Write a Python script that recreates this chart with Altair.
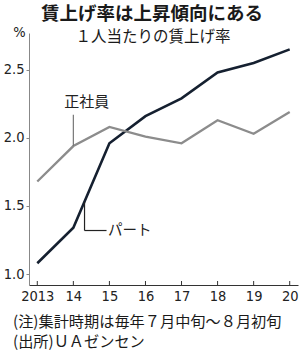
import altair as alt
import pandas as pd

# ---- data ----
years = [2013, 2014, 2015, 2016, 2017, 2018, 2019, 2020]
part_rate = [1.08, 1.34, 1.96, 2.16, 2.29, 2.48, 2.55, 2.65]      # パート
regular_rate = [1.68, 1.94, 2.08, 2.01, 1.96, 2.13, 2.03, 2.19]   # 正社員
x_tick_labels = ["2013", "14", "15", "16", "17", "18", "19", "20"]
y_tick_values = [1.0, 1.5, 2.0, 2.5]

title_text = "賃上げ率は上昇傾向にある"
subtitle_text = "１人当たりの賃上げ率"
unit_text = "%"
note_text = "(注)集計時期は毎年７月中旬～８月初旬"
source_text = "(出所)ＵＡゼンセン"
label_regular = "正社員"
label_part = "パート"

# ---- layout ----
W, H = 269, 252
X_DOMAIN = [2012.77, 2020.23]
Y_DOMAIN = [0.92, 2.77]
JP = "Noto Sans CJK JP"
NUM = "Liberation Sans Narrow, DejaVu Sans Condensed, sans-serif"

df = pd.DataFrame({
    "year": years * 2,
    "rate": part_rate + regular_rate,
    "series": [label_part] * len(years) + [label_regular] * len(years),
})

xs = alt.Scale(domain=X_DOMAIN, nice=False, zero=False)
ys = alt.Scale(domain=Y_DOMAIN, nice=False, zero=False)

label_expr = " : ".join(
    f"datum.value == {y} ? '{l}'" for y, l in zip(years, x_tick_labels)
) + " : ''"

X_AXIS = alt.Axis(
    values=years, labelExpr=label_expr, ticks=False, grid=False,
    domainColor="#333333", domainWidth=1, labelFont=NUM,
    labelFontSize=14.5, labelColor="#222222", labelPadding=4, title=None,
    labelFlush=False)
Y_AXIS = alt.Axis(
    values=y_tick_values, format=".1f", tickSize=3, tickColor="#888888",
    domainColor="#888888", domainWidth=1, grid=False, labelFont=NUM,
    labelFontSize=14.5, labelColor="#222222", labelPadding=2, title=None)


def X(field):
    return alt.X(field, type="quantitative", scale=xs, axis=X_AXIS)


def Y(field):
    return alt.Y(field, type="quantitative", scale=ys, axis=Y_AXIS)


base = alt.Chart(df)

line_part = base.transform_filter(alt.datum.series == label_part).mark_line(
    color="#152030", strokeWidth=2.6
).encode(x=X("year"), y=Y("rate"))

line_regular = base.transform_filter(alt.datum.series == label_regular).mark_line(
    color="#8c8c8c", strokeWidth=2.3
).encode(x=X("year"), y=Y("rate"))

# inward x ticks
xticks = alt.Chart(pd.DataFrame({"year": years})).mark_rule(
    color="#333333", strokeWidth=1
).encode(x=X("year"), y=alt.value(H - 4), y2=alt.value(H))

# leader lines
lead_reg = alt.Chart(pd.DataFrame({"x": [2014], "y": [1.94], "y2": [2.17]})).mark_rule(
    color="#777777", strokeWidth=1.2
).encode(x=X("x"), y=Y("y"), y2="y2:Q")
lead_part_v = alt.Chart(pd.DataFrame({"x": [2014.31], "y": [1.53], "y2": [1.32]})).mark_rule(
    color="#222222", strokeWidth=1.2
).encode(x=X("x"), y=Y("y"), y2="y2:Q")
lead_part_h = alt.Chart(pd.DataFrame({"x": [2014.31], "x2": [2014.92], "y": [1.32]})).mark_rule(
    color="#222222", strokeWidth=1.2
).encode(x=X("x"), x2="x2:Q", y=Y("y"))

lab_reg = alt.Chart(pd.DataFrame({"x": [2014.37], "y": [2.26], "t": [label_regular]})).mark_text(
    font=JP, fontSize=15, color="#222222", align="center", baseline="middle"
).encode(x=X("x"), y=Y("y"), text="t:N")
lab_part = alt.Chart(pd.DataFrame({"x": [2014.96], "y": [1.32], "t": [label_part]})).mark_text(
    font=JP, fontSize=14.5, color="#222222", align="left", baseline="middle"
).encode(x=X("x"), y=Y("y"), text="t:N")


def free_text(txt, x, y, size, weight="normal", align="center", font=JP):
    return alt.Chart(pd.DataFrame({"t": [txt]})).mark_text(
        font=font, fontSize=size, fontWeight=weight, color="#1a1a1a",
        align=align, baseline="middle"
    ).encode(x=alt.value(x), y=alt.value(y), text="t:N")


t_title = free_text(title_text, 123, -19.5, 18.5, weight="bold")
t_sub = free_text(subtitle_text, 124, 3.5, 15.5)
t_unit = free_text(unit_text, -9.5, 0, 14.5, font=NUM)
t_note = free_text(note_text, -16, 288.5, 15.2, align="left")
t_src = free_text(source_text, -16, 308.5, 15.2, align="left")

chart = alt.layer(
    line_part, line_regular, xticks, lead_reg, lead_part_v, lead_part_h,
    lab_reg, lab_part, t_title, t_sub, t_unit, t_note, t_src
).properties(
    width=W, height=H,
    padding={"left": 29, "top": 33, "right": 2, "bottom": 71},
    autosize=alt.AutoSizeParams(type="none"),
    background="white",
).configure_view(stroke=None)

chart.save("out.html", embed_options={"renderer": "svg", "actions": False})
